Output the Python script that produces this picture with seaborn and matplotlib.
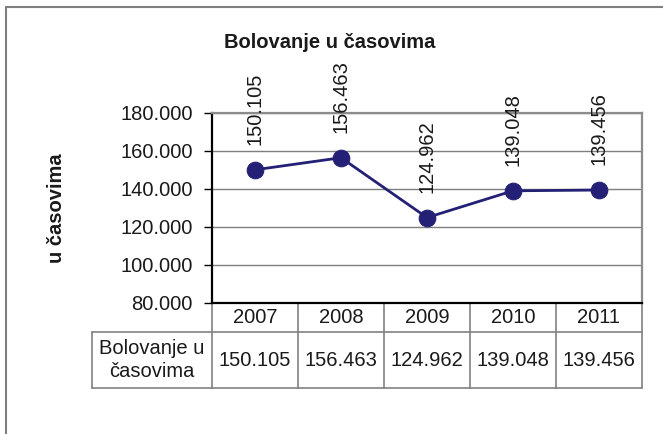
import matplotlib
matplotlib.use("Agg")
import matplotlib.pyplot as plt
import matplotlib.transforms as mtransforms
from matplotlib.patches import Rectangle
import seaborn as sns
import pandas as pd

years = ["2007", "2008", "2009", "2010", "2011"]
values = [150105, 156463, 124962, 139048, 139456]
series_name = "Bolovanje u\nčasovima"
title = "Bolovanje u časovima"
ylabel = "u časovima"
yticks = [80000, 100000, 120000, 140000, 160000, 180000]

def fmt(v):
    return f"{v:,}".replace(",", ".")

sns.set_theme(style="white")
plt.rcParams["font.family"] = ["Liberation Sans", "DejaVu Sans"]

W, H = 663, 434
fig = plt.figure(figsize=(W / 100, H / 100), dpi=100)
fig.patch.set_facecolor("white")

# outer frame
fig.patches.append(Rectangle((6 / W, -0.05), 1.1, (1 - 7 / H) + 0.05,
                             transform=fig.transFigure, fill=False,
                             edgecolor="#7f7f7f", linewidth=1.5, zorder=0))

left, right, top, bottom = 212, 642, 113, 303
ax = fig.add_axes([left / W, 1 - bottom / H, (right - left) / W, (bottom - top) / H])

df = pd.DataFrame({"x": range(len(years)), "y": values})
color = "#232076"
sns.lineplot(data=df, x="x", y="y", ax=ax, color=color, linewidth=2,
             marker="o", markersize=12, markeredgecolor=color,
             markerfacecolor=color, clip_on=False, zorder=5)

ax.set_xlim(-0.5, len(years) - 0.5)
ax.set_ylim(80000, 180000)
ax.set_yticks(yticks)
ax.set_yticklabels([fmt(t) for t in yticks], fontsize=14.5, color="#1a1a1a")
ax.set_xticks([])
ax.set_xlabel("")
ax.set_ylabel("")
ax.tick_params(axis="y", which="both", left=True, length=6, width=1,
               color="black", direction="out", pad=8)
ax.grid(axis="y", color="#7f7f7f", linewidth=1)
ax.set_axisbelow(True)

for s in ["left", "bottom"]:
    ax.spines[s].set_color("black")
    ax.spines[s].set_linewidth(1.6)
for s in ["top", "right"]:
    ax.spines[s].set_color("#8c8c8c")
    ax.spines[s].set_linewidth(1.6)

# data labels
for i, v in enumerate(values):
    ax.annotate(fmt(v), xy=(i, v), xytext=(0, 18), textcoords="offset points",
                rotation=90, ha="center", va="bottom", fontsize=14.5,
                color="#1a1a1a", zorder=6)

fig.text(330 / W, 1 - 42 / H, title, ha="center", va="center",
         fontsize=14.5, fontweight="bold", color="#1a1a1a")
fig.text(56 / W, 1 - 208 / H, ylabel, ha="center", va="center",
         rotation=90, fontsize=14.5, fontweight="bold", color="#1a1a1a")

# data table below the axis
tr = mtransforms.blended_transform_factory(ax.transData, ax.transAxes)
axh = bottom - top
r1 = -(332 - bottom) / axh
r2 = -(388 - bottom) / axh
xl = -0.5 - (left - 92) / ((right - left) / len(years))
lc = "#808080"
lkw = dict(color=lc, linewidth=1.2, transform=tr, clip_on=False)
ax.plot([xl, len(years) - 0.5], [r1, r1], **lkw)
ax.plot([xl, len(years) - 0.5], [r2, r2], **lkw)
ax.plot([xl, xl], [r1, r2], **lkw)
for k in range(len(years) + 1):
    ax.plot([k - 0.5, k - 0.5], [0, r2], **lkw)

for i, yr in enumerate(years):
    ax.text(i, r1 / 2, yr, transform=tr, ha="center", va="center",
            fontsize=14.5, color="#1a1a1a")
    ax.text(i, (r1 + r2) / 2, fmt(values[i]), transform=tr, ha="center",
            va="center", fontsize=14.5, color="#1a1a1a")
ax.text((xl - 0.5) / 2, (r1 + r2) / 2, series_name, transform=tr,
        ha="center", va="center", fontsize=14.5, color="#1a1a1a",
        linespacing=1.3)

fig.savefig("out.png", dpi=100, facecolor="white")
